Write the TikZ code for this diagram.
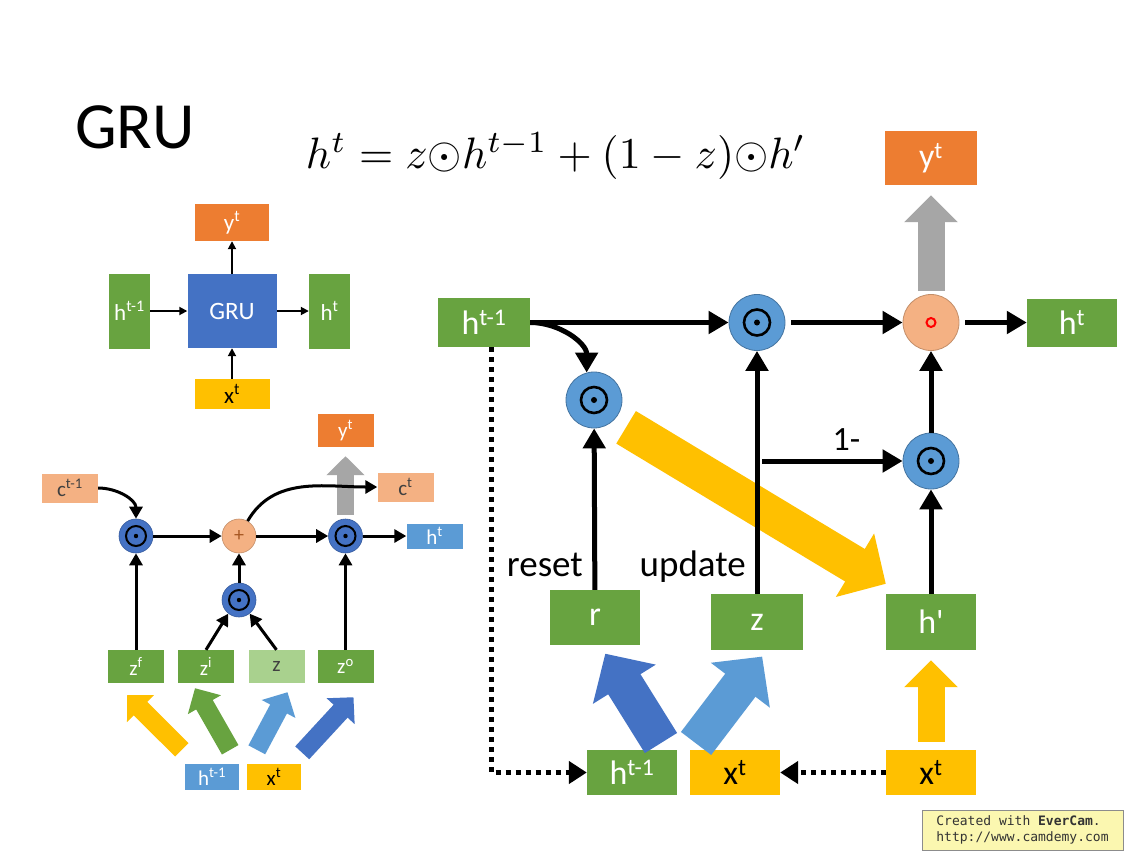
\documentclass[tikz,border=0pt]{standalone}
\usepackage{fontspec}
\setmainfont{Carlito}
\newfontfamily\camfont{DejaVu Sans Mono}
\usetikzlibrary{arrows.meta,calc}

\definecolor{boxgreen}{HTML}{68A340}
\definecolor{boxlight}{HTML}{A9D18E}
\definecolor{boxorange}{HTML}{ED7D31}
\definecolor{boxyellow}{HTML}{FFC000}
\definecolor{boxblue}{HTML}{4472C4}
\definecolor{boxsky}{HTML}{5B9BD5}
\definecolor{boxsalmon}{HTML}{F4B183}
\definecolor{arrowgray}{HTML}{A6A6A6}
\definecolor{campaper}{HTML}{FBF7B0}

\newcommand{\up}[1]{\textsuperscript{#1}}

\tikzset{
  gbox/.style={inner sep=0pt, text=white},
  sbox/.style={gbox, font=\fontsize{23}{23}\selectfont},
  lbox/.style={gbox, minimum width=56pt, minimum height=29pt, font=\fontsize{21}{21}\selectfont},
  rbox/.style={gbox, minimum width=90pt, minimum height=48pt, font=\fontsize{34}{34}\selectfont},
  rdot/.style={circle, inner sep=0pt, minimum size=56pt, fill=boxsky, draw=boxsky!75!black, line width=0.8pt,
    path picture={\draw[black, line width=2.6pt] (path picture bounding box.center) circle (13pt);
      \fill[black] (path picture bounding box.center) circle (3pt);}},
  rplus/.style={circle, inner sep=0pt, minimum size=56pt, fill=boxsalmon, draw=boxsalmon!80!black, line width=0.8pt},
  ldot/.style={circle, inner sep=0pt, minimum size=34pt, fill=boxblue, draw=boxblue!80!black, line width=0.6pt,
    path picture={\draw[black, line width=2pt] (path picture bounding box.center) circle (10pt);
      \fill[black] (path picture bounding box.center) circle (2.2pt);}},
  lplus/.style={circle, inner sep=0pt, minimum size=34pt, fill=boxsalmon, draw=boxsalmon!80!black, line width=0.6pt,
    text=boxorange!70!black, font=\fontsize{20}{20}\selectfont},
  word/.style={inner sep=0pt, font=\fontsize{37}{37}\selectfont},
  arrowS/.style={line width=1.8pt, -{Triangle[length=8pt,width=8pt]}},
  arrowM/.style={line width=3pt, -{Triangle[length=12pt,width=13pt]}},
  arrowL/.style={line width=5pt, -{Triangle[length=20pt,width=22pt]}},
  dotarrow/.style={line width=5pt, dash pattern=on 5pt off 5pt, -{Triangle[length=18pt,width=22pt]}},
  fatL/.style={line width=38pt, -{Triangle[length=36pt,width=72pt]}},
  fatM/.style={line width=27pt, -{Triangle[length=27pt,width=52pt]}},
  fatS/.style={line width=19pt, -{Triangle[length=19pt,width=37pt]}}
}

\begin{document}
\begin{tikzpicture}[x=1pt,y=-1pt]
\fill[white] (0,0) rectangle (1135,860);

\node[inner sep=0pt, font=\fontsize{66}{66}\selectfont] (title) at (135,127) {GRU};
\node[anchor=base, inner sep=0pt] (eq) at (556,168) {\scalebox{4.4}{$h^t = z{\odot}h^{t-1} + (1-z){\odot}h'$}};

\node[sbox, fill=boxorange, minimum width=74pt, minimum height=37pt] (sy) at (232,222.5) {y\up{t}};
\node[sbox, fill=boxgreen, minimum width=41pt, minimum height=75pt] (sh1) at (129.5,311) {h\up{t-1}};
\node[sbox, fill=boxblue, minimum width=89pt, minimum height=74pt, font=\fontsize{25}{25}\selectfont] (sgru) at (232,311) {GRU};
\node[sbox, fill=boxgreen, minimum width=41pt, minimum height=75pt] (sh2) at (329.5,311) {h\up{t}};
\node[sbox, fill=boxyellow, text=black, minimum width=75pt, minimum height=30pt] (sx) at (232,394) {x\up{t}};

\draw[arrowS] (sh1) -- (sgru);
\draw[arrowS] (sgru) -- (sh2);
\draw[arrowS] (sgru) -- (sy);
\draw[arrowS] (sx) -- (sgru);

\node[lbox, fill=boxorange, minimum height=33pt] (ly) at (345.5,430.5) {y\up{t}};
\node[lbox, fill=boxsalmon, text=black!75] (lcp) at (70,488) {c\up{t-1}};
\node[lbox, fill=boxsalmon, text=black!75] (lcn) at (405.5,487) {c\up{t}};
\node[lbox, fill=boxsky, minimum height=25pt] (lht) at (434.5,536) {h\up{t}};
\node[ldot] (lm1) at (136,536) {};
\node[lplus] (lpl) at (239,536) {+};
\node[ldot] (lm3) at (345.5,536) {};
\node[ldot] (lm2) at (239,600) {};
\node[lbox, fill=boxgreen, minimum height=33pt] (lzf) at (136,666.5) {z\up{f}};
\node[lbox, fill=boxgreen, minimum height=33pt] (lzi) at (206,666.5) {z\up{i}};
\node[lbox, fill=boxlight, text=black!75, minimum height=33pt] (lzz) at (276.5,666.5) {z};
\node[lbox, fill=boxgreen, minimum height=33pt] (lzo) at (345.5,666.5) {z\up{o}};
\node[lbox, fill=boxsky, minimum width=54pt, minimum height=26pt] (lh) at (212,777) {h\up{t-1}};
\node[lbox, fill=boxyellow, text=black, minimum width=54pt, minimum height=26pt] (lx) at (274,777) {x\up{t}};

\draw[fatS, boxyellow] ($(lh.north west)+(-3,-14)$) -- ($(lzf.south)+(-9,12)$);
\draw[fatS, boxgreen] ($(lh.north east)+(-9,-14)$) -- ($(lzi.south)+(-11,5)$);
\draw[fatS, boxsky] ($(lx.north west)+(10,-14)$) -- ($(lzz.south)+(11,9)$);
\draw[fatS, boxblue] ($(lx.north east)+(1,-11)$) -- ($(lzo.south)+(8,14)$);
\draw[fatS, arrowgray, line width=17pt, shorten <=4pt, shorten >=9pt] (lm3) -- (ly);

\draw[arrowM] (lcp.east) to[out=0,in=90] (lm1.north);
\draw[arrowM] (lm1) -- (lpl);
\draw[arrowM] (lpl) -- (lm3);
\draw[arrowM] (lm3) -- (lht);
\draw[arrowM] (lzf) -- (lm1);
\draw[arrowM] (lzi.north) -- (lm2.232);
\draw[arrowM] (lzz.north) -- (lm2.308);
\draw[arrowM] (lm2) -- (lpl);
\draw[arrowM] (lzo) -- (lm3);
\draw[arrowM] (lpl.60) to[out=60,in=180] (lcn.west);

\node[rbox, fill=boxorange, minimum width=92pt, minimum height=54pt] (yo) at (931,158) {y\up{t}};
\node[rbox, fill=boxgreen, minimum width=92pt, minimum height=49pt] (ht1) at (484,322.5) {h\up{t-1}};
\node[rdot] (m2) at (757,322.5) {};
\node[rplus] (p2) at (931,322.5) {};
\node[rbox, fill=boxgreen] (hto) at (1072,322.5) {h\up{t}};
\node[rdot] (m0) at (594,400) {};
\node[rdot] (m3) at (931,461) {};
\node[rbox, fill=boxgreen, minimum height=55pt] (r) at (595,617.5) {r};
\node[rbox, fill=boxgreen, minimum width=92pt, minimum height=56pt] (z) at (757,622) {z};
\node[rbox, fill=boxgreen, minimum height=56pt] (hp) at (931,622) {h\textquotesingle};
\node[rbox, fill=boxgreen, minimum height=45pt] (hb) at (632,772.5) {h\up{t-1}};
\node[rbox, fill=boxyellow, text=black, minimum height=45pt] (xb) at (735,772.5) {x\up{t}};
\node[rbox, fill=boxyellow, text=black, minimum height=45pt] (xr) at (931,772.5) {x\up{t}};
\node[word, anchor=east] (lreset) at (583,565) {reset};
\node[word, anchor=east] (lupdate) at (746,567) {update};
\coordinate (oneminus) at (762,461);

\draw[red, line width=2pt] (p2.center) circle (4.5pt);

\draw[fatL, boxyellow, shorten <=14pt] (m0.south east) -- ([yshift=10pt]hp.north west);
\draw[fatL, boxblue, shorten <=8pt, shorten >=10pt] ([xshift=-12pt]hb.north east) -- ([xshift=5pt]r.south);
\draw[fatL, boxsky, shorten <=8pt, shorten >=8pt] ([xshift=14pt]hb.north east) -- ([xshift=10pt]z.south);
\draw[fatM, boxyellow, shorten <=8pt, shorten >=10pt] (xr) -- (hp);
\draw[fatM, arrowgray, shorten <=3pt, shorten >=10pt] (p2) -- (yo);

\draw[arrowL] (ht1) -- (m2);
\draw[arrowL] (ht1.east) to[out=0,in=90] (m0.105);
\draw[arrowL, shorten <=6pt] (m2) -- (p2);
\draw[arrowL, shorten <=6pt] (p2) -- (hto);
\draw[arrowL] (r) -- (m0);
\draw[arrowL] (z) -- (m2);
\draw[arrowL] (oneminus) -- (m3) node[pos=0.6, above=8pt, word, font=\fontsize{34}{34}\selectfont] (lone) {1-};
\draw[arrowL] (m3) -- (p2);
\draw[arrowL] (hp) -- (m3);
\draw[dotarrow] ([xshift=7pt]ht1.south) |- (hb.west);
\draw[dotarrow] (xr) -- (xb);

\node[draw=black!45, fill=campaper, line width=1pt, minimum width=201pt, minimum height=40pt, inner sep=2pt,
  align=left, text=black!80, font=\camfont\fontsize{13}{16}\selectfont] (cam) at (1022.5,830)
  {Created with \textbf{EverCam}.\\http://www.camdemy.com};
\end{tikzpicture}
\end{document}
